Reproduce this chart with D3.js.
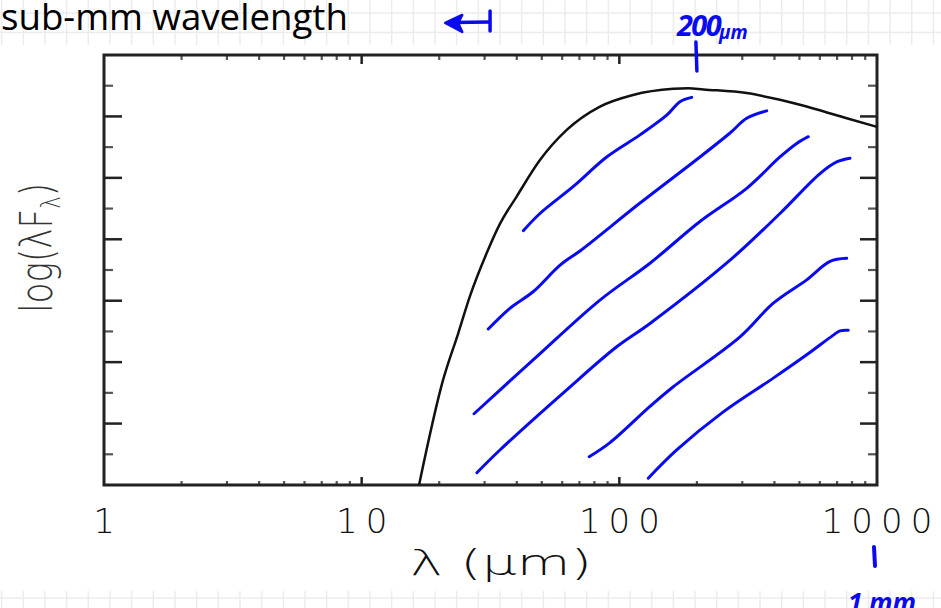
<!DOCTYPE html>
<html>
<head>
<meta charset="utf-8">
<script src="https://cdn.jsdelivr.net/npm/d3@7"></script>
<style>
  body { margin: 0; background: #fff; }
  svg { display: block; }
</style>
</head>
<body>
<svg id="chart" width="941" height="608"></svg>
<script>
/////////////////////////////////////////////////////////////////////////////////////
// Data (wavelength in micron, flux in log units)
var sedWave = [16.7, 20.7, 23.7, 26.3, 30.6, 34.4, 40.0, 49.2, 62.5, 84.1, 113, 162, 185, 212, 312, 420, 566, 763, 1000];
var sedFlux = [0, 1.71, 2.47, 3.07, 3.78, 4.25, 4.70, 5.29, 5.78, 6.16, 6.35, 6.45, 6.46, 6.44, 6.38, 6.27, 6.13, 5.97, 5.83];

var xTickLabels = ["1", "10", "100", "1000"];
var xLabelValues = [1, 10, 100, 1000];
var xMajor = [10, 100];
var xMinor = [2, 3, 4, 5, 6, 7, 8, 9, 20, 30, 40, 50, 60, 70, 80, 90, 200, 300, 400, 500, 600, 700, 800, 900];
var yMajor = [1, 2, 3, 4, 5, 6];
var yMinor = [0.5, 1.5, 2.5, 3.5, 4.5, 5.5, 6.5];

// hand drawn hatching (blue)
var hatch1Wave = [42.4, 49.2, 66.3, 89.3, 120.3, 152.7, 171.9, 190.9];
var hatch1Flux = [4.14, 4.42, 4.86, 5.34, 5.70, 6.02, 6.24, 6.31];
var hatch2Wave = [31.0, 37.7, 46.4, 58.9, 71.4, 120.3, 205.6, 268.9, 312.1, 373.3];
var hatch2Flux = [2.54, 2.88, 3.15, 3.58, 3.83, 4.59, 5.34, 5.73, 5.97, 6.09];
var hatch3Wave = [27.3, 46.4, 84.1, 131.5, 205.6, 312.1, 420.2, 488.0, 541.3];
var hatch3Flux = [1.16, 2.04, 3.01, 3.61, 4.29, 4.83, 5.34, 5.56, 5.67];
var hatch4Wave = [28.0, 34.4, 62.5, 97.7, 131.5, 268.9, 420.2, 600.8, 697.6, 785.6];
var hatch4Flux = [0.20, 0.57, 1.55, 2.25, 2.63, 3.66, 4.42, 5.07, 5.26, 5.32];
var hatch5Wave = [76.4, 92.0, 131.5, 162.0, 294.0, 395.8, 533.4, 657.1, 762.8];
var hatch5Flux = [0.46, 0.69, 1.28, 1.60, 2.41, 2.96, 3.34, 3.64, 3.69];
var hatch6Wave = [129.5, 167.0, 253.2, 395.8, 533.4, 676.8, 718.6, 773.8];
var hatch6Flux = [0.11, 0.57, 1.19, 1.74, 2.12, 2.44, 2.51, 2.52];

var arrowSpan = [21.1, 31.5];   // "<-|" above the plot
var peakMark = 200;             // "200 um"
var mmMark = 1000;              // "1 mm"

/////////////////////////////////////////////////////////////////////////////////////
// Margins
var svg = d3.select("#chart");
var w = 941, h = 608;
var margin = {left: 104, right: 64, top: 55, bottom: 123};

var xScale = d3.scaleLog().domain([1, 1000]).range([margin.left, w - margin.right]);
var yScale = d3.scaleLinear().domain([0, 7]).range([h - margin.bottom, margin.top]);
var x0 = xScale.range()[0], x1 = xScale.range()[1];
var y0 = yScale.range()[0], y1 = yScale.range()[1];

/////////////////////////////////////////////////////////////////////////////////////
// slide background grid + white picture panel
var grid = svg.append("g");
for (var gx = 1.6; gx < w; gx += 21.67) {
  grid.append("line").attr("x1", gx).attr("x2", gx).attr("y1", 0).attr("y2", h)
      .style("stroke", "#ececec").style("stroke-width", 1.5);
}
for (var gy = 13; gy < h; gy += 19.5) {
  grid.append("line").attr("x1", 0).attr("x2", w).attr("y1", gy).attr("y2", gy)
      .style("stroke", "#ececec").style("stroke-width", 1.5);
}
svg.append("rect").attr("x", 0).attr("y", 45).attr("width", w).attr("height", 546)
   .style("fill", "#fff");

/////////////////////////////////////////////////////////////////////////////////////
// Title
var title = svg.append("text")
   .attr("x", 1).attr("y", 30)
   .style("font-family", "'Open Sans', sans-serif")
   .style("font-size", "30px")
   .style("fill", "#000")
   .text("sub-mm wavelength");
var tw = title.node().getComputedTextLength();
title.style("font-size", (30 * 347 / tw) + "px");

/////////////////////////////////////////////////////////////////////////////////////
// Ticks
var tickG = svg.append("g");
function tick(xa, ya, xb, yb, major) {
  tickG.append("line").attr("x1", xa).attr("y1", ya).attr("x2", xb).attr("y2", yb)
       .style("stroke", major ? "#222" : "#555")
       .style("stroke-width", major ? 2.5 : 2.2);
}
xMajor.forEach(function(d) {
  tick(xScale(d), y0, xScale(d), y0 - 8, true);
  tick(xScale(d), y1, xScale(d), y1 + 9, true);
});
xMinor.forEach(function(d) {
  tick(xScale(d), y0, xScale(d), y0 - 4, false);
  tick(xScale(d), y1, xScale(d), y1 + 5, false);
});
yMajor.forEach(function(d) {
  tick(x0, yScale(d), x0 + 18, yScale(d), true);
  tick(x1, yScale(d), x1 - 17, yScale(d), true);
});
yMinor.forEach(function(d) {
  tick(x0, yScale(d), x0 + 9, yScale(d), false);
  tick(x1, yScale(d), x1 - 9, yScale(d), false);
});

// frame
svg.append("rect")
   .attr("x", x0).attr("y", y1)
   .attr("width", x1 - x0).attr("height", y0 - y1)
   .style("fill", "none").style("stroke", "#222").style("stroke-width", 3);

/////////////////////////////////////////////////////////////////////////////////////
// Tick labels and axis titles
var ls = 8;
svg.selectAll(".xLab")
   .data(xLabelValues)
   .enter()
   .append("text")
   .attr("class", "xLab")
   .attr("x", function(d) { return xScale(d) + ls / 2; })
   .attr("y", 533)
   .attr("text-anchor", "middle")
   .style("font-family", "'DejaVu Sans', sans-serif")
   .style("font-weight", 200)
   .style("font-size", "34px")
   .style("letter-spacing", ls + "px")
   .style("fill", "#111")
   .text(function(d, i) { return xTickLabels[i]; });

// x title, stretched to the reference width
var xt = svg.append("text")
   .attr("x", 0).attr("y", 0)
   .style("font-family", "'DejaVu Sans', sans-serif")
   .style("font-weight", 200)
   .style("font-size", "36px")
   .style("fill", "#111")
   .text("\u03bb  (\u03bcm)");
var xtw = xt.node().getBBox().width;
xt.attr("transform", "translate(410,575) scale(" + (182 / xtw) + ",1)");

// y title, narrow and tall like the IDL font
var yl = svg.append("text")
   .attr("x", 0).attr("y", 0)
   .attr("text-anchor", "middle")
   .style("font-family", "'DejaVu Sans', sans-serif")
   .style("font-weight", 200)
   .style("font-size", "44px")
   .style("fill", "#333");
yl.append("tspan").text("log(\u03bbF");
yl.append("tspan").attr("dy", 8).style("font-size", "27px").text("\u03bb");
yl.append("tspan").attr("dy", -8).text(")");
var ylw = yl.node().getBBox().width;
yl.attr("transform", "translate(52,248) rotate(-90) scale(" + (130 / ylw) + ",1)");

/////////////////////////////////////////////////////////////////////////////////////
// SED curve
var sedLine = d3.line()
   .x(function(d) { return xScale(d[0]); })
   .y(function(d) { return yScale(d[1]); })
   .curve(d3.curveMonotoneX);

svg.append("path")
   .datum(d3.zip(sedWave, sedFlux))
   .attr("d", sedLine)
   .style("fill", "none").style("stroke", "#111").style("stroke-width", 2.5);

/////////////////////////////////////////////////////////////////////////////////////
// Blue hatching + annotations
var blue = "#0a0af0";
var hatchLine = d3.line()
   .x(function(d) { return xScale(d[0]); })
   .y(function(d) { return yScale(d[1]); })
   .curve(d3.curveCatmullRom);

[[hatch1Wave, hatch1Flux], [hatch2Wave, hatch2Flux], [hatch3Wave, hatch3Flux],
 [hatch4Wave, hatch4Flux], [hatch5Wave, hatch5Flux], [hatch6Wave, hatch6Flux]].forEach(function(p) {
  svg.append("path")
     .datum(d3.zip(p[0], p[1]))
     .attr("d", hatchLine)
     .style("fill", "none").style("stroke", blue)
     .style("stroke-width", 3).style("stroke-linecap", "round");
});

// arrow <-|
var ax0 = xScale(arrowSpan[0]), ax1 = xScale(arrowSpan[1]);
svg.append("line").attr("x1", ax0 + 8).attr("x2", ax1).attr("y1", 22.5).attr("y2", 22)
   .style("stroke", blue).style("stroke-width", 3.5);
svg.append("line").attr("x1", ax1).attr("x2", ax1).attr("y1", 11).attr("y2", 31)
   .style("stroke", blue).style("stroke-width", 3.5).style("stroke-linecap", "round");
svg.append("path")
   .attr("d", "M" + ax0 + ",23 L" + (ax0 + 17) + ",15 L" + (ax0 + 13) + ",23 L" + (ax0 + 17) + ",32 Z")
   .style("fill", blue).style("stroke", blue).style("stroke-width", 2.5).style("stroke-linejoin", "round");

// 200 um marker
var px = xScale(peakMark);
svg.append("line").attr("x1", px - 1).attr("x2", px).attr("y1", 42).attr("y2", 71)
   .style("stroke", blue).style("stroke-width", 3.5).style("stroke-linecap", "round");
svg.append("text")
   .attr("x", px - 20).attr("y", 36)
   .style("font-family", "'Noto Sans', sans-serif")
   .style("font-weight", "bold").style("font-style", "italic")
   .style("font-size", "29px").style("fill", blue)
   .style("letter-spacing", "-1.5px")
   .text("200");
svg.append("text")
   .attr("x", px + 22).attr("y", 39)
   .style("font-family", "'Noto Sans', sans-serif")
   .style("font-weight", "bold").style("font-style", "italic")
   .style("font-size", "19px").style("fill", blue)
   .text("\u00b5m");

// 1 mm marker
var mx = xScale(mmMark);
svg.append("line").attr("x1", mx - 3).attr("x2", mx - 2).attr("y1", 547).attr("y2", 566)
   .style("stroke", blue).style("stroke-width", 4).style("stroke-linecap", "round");
svg.append("text")
   .attr("x", mx - 29).attr("y", 612)
   .style("font-family", "'Noto Sans', sans-serif")
   .style("font-weight", "bold").style("font-style", "italic")
   .style("font-size", "26px").style("fill", blue)
   .text("1 mm");
</script>
</body>
</html>
